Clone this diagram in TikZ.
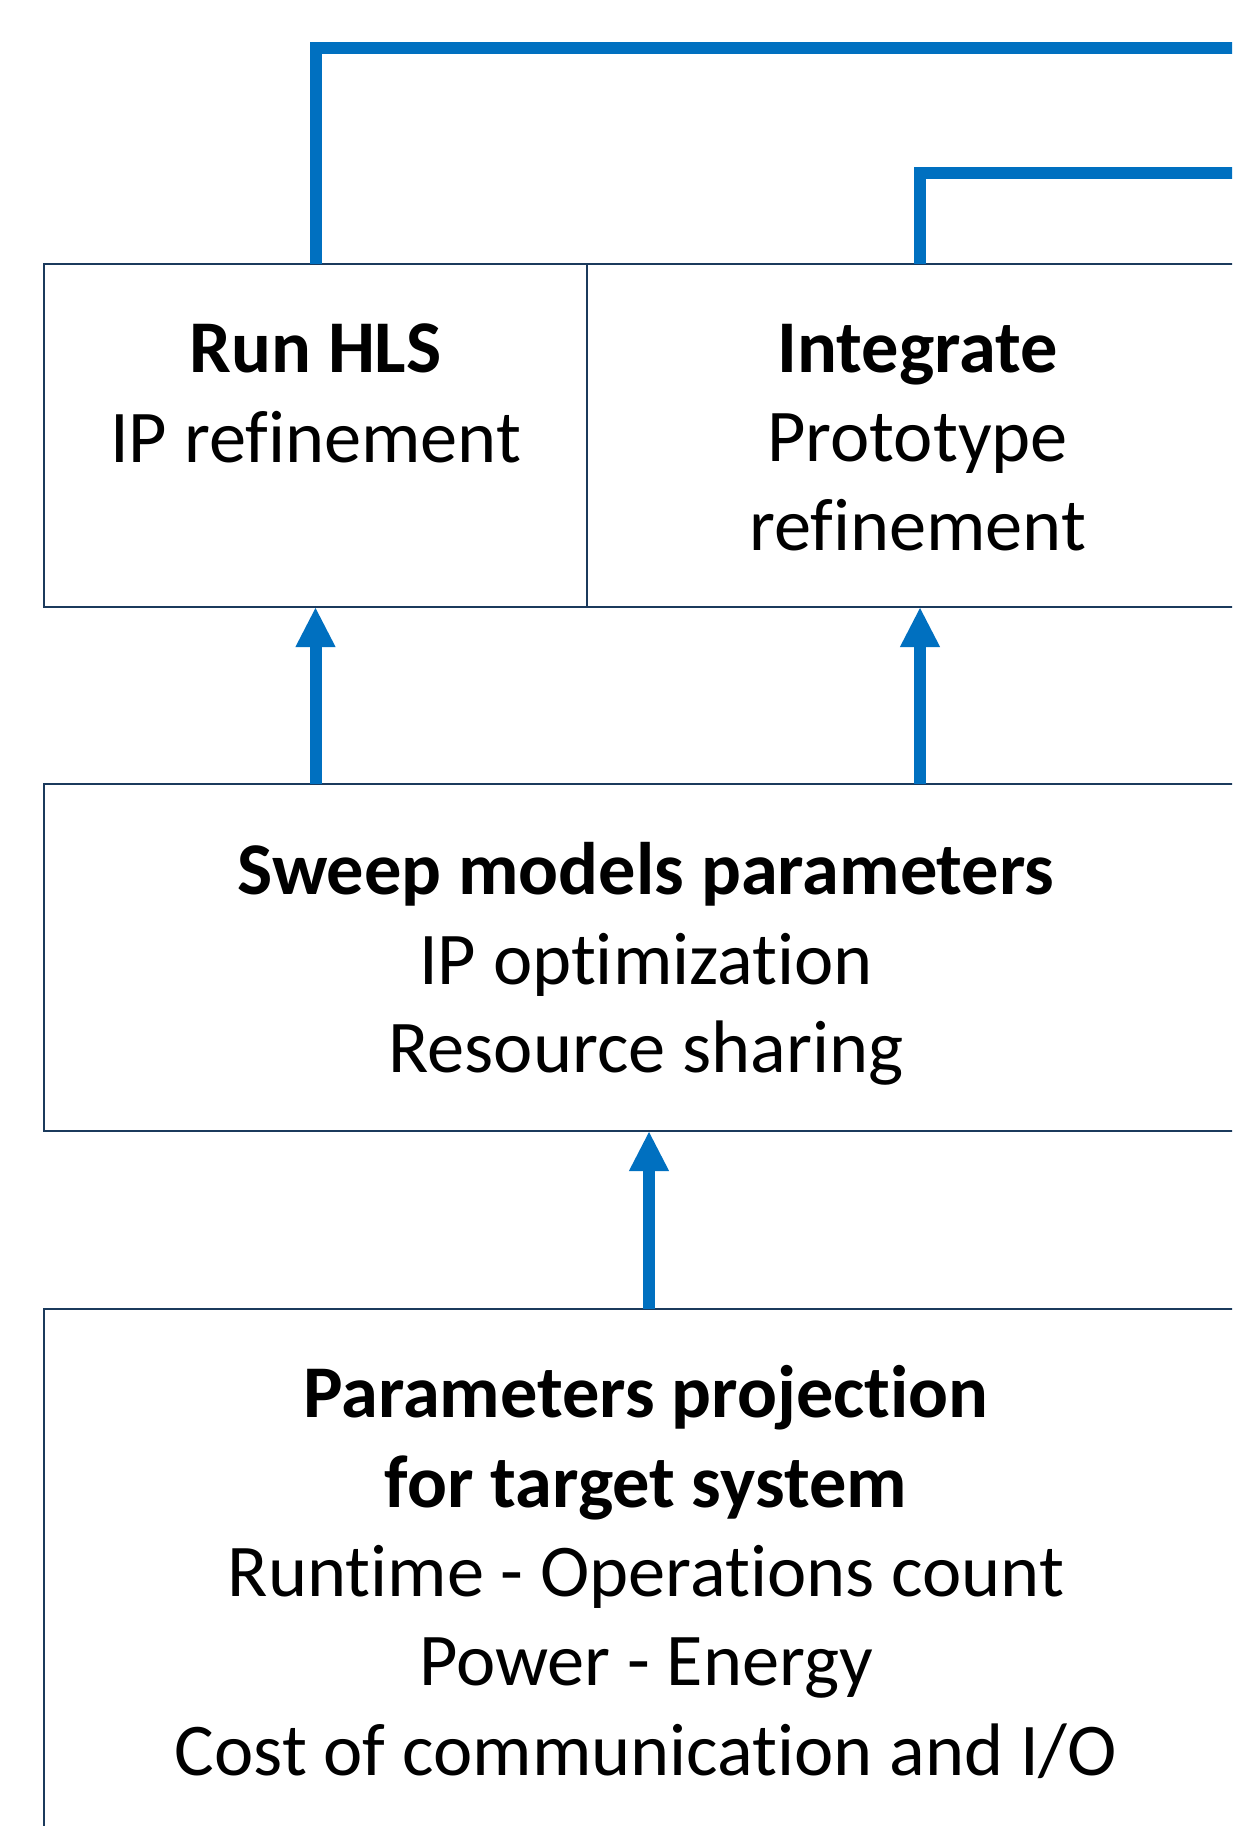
\documentclass[tikz,border=0pt]{standalone}
\usepackage{fontspec}
\setmainfont[Ligatures=NoCommon]{Carlito}
\usetikzlibrary{arrows.meta}
\definecolor{flow}{HTML}{0070C0}
\definecolor{frame}{HTML}{1B3A5C}
\tikzset{
  box/.style={draw=frame, line width=1.1pt, anchor=north west, inner sep=0pt, outer sep=0pt},
  txt/.style={anchor=base, inner sep=0pt, font=\fontsize{37.2}{44.75}\selectfont},
  bold/.style={txt, font=\fontsize{37.2}{44.75}\selectfont\bfseries},
  flowline/.style={draw=flow, line width=6pt},
  flowarrow/.style={flowline, -{Triangle[length=20pt,width=18.5pt]}},
}
\begin{document}
\begin{tikzpicture}[x=0.5pt,y=-0.5pt]
\useasboundingbox (0,0) rectangle (1232,1826);
\clip (0,0) rectangle (1232,1826);
\fill[white] (0,0) rectangle (1232,1826);
% boxes
\node[box, minimum width=271.5pt, minimum height=171.5pt] (hls) at (44,264) {};
\node[box, minimum width=333pt, minimum height=171.5pt] (integ) at (587,264) {};
\node[box, minimum width=605pt, minimum height=173.5pt] (sweep) at (44,784) {};
\node[box, minimum width=605pt, minimum height=350pt] (proj) at (44,1309) {};
% texts
\node[bold] (t1) at (315.5,372.6) {Run HLS};
\node[txt]  (t2) at (315.5,462.3) {IP refinement};
\node[bold] (t3) at (917.5,372.6) {Integrate};
\node[txt]  (t4) at (917.5,461.5) {Prototype};
\node[txt]  (t5) at (917.5,550) {refinement};
\node[bold] (t6) at (646,894) {Sweep models parameters};
\node[txt]  (t7) at (646,984) {IP optimization};
\node[txt]  (t8) at (646,1072.5) {Resource sharing};
\node[bold] (t9) at (646,1417) {Parameters projection};
\node[bold] (t10) at (646,1507) {for target system};
\node[txt]  (t11) at (646,1596.5) {Runtime - Operations count};
\node[txt]  (t12) at (646,1685) {Power - Energy};
\node[txt]  (t13) at (646,1775) {Cost of communication and I/O};
% feedback lines leaving to the right
\coordinate (out1) at (1260,48);
\coordinate (out2) at (1260,172.5);
\draw[flowline] (hls.north) |- (out1);
\draw[flowline] (integ.north) |- (out2);
% upward arrows
\draw[flowarrow] (sweep.north -| hls.south) -- (hls.south);
\draw[flowarrow] (sweep.north -| integ.south) -- (integ.south);
\draw[flowarrow] (proj.north) -- (sweep.south);
\end{tikzpicture}
\end{document}
